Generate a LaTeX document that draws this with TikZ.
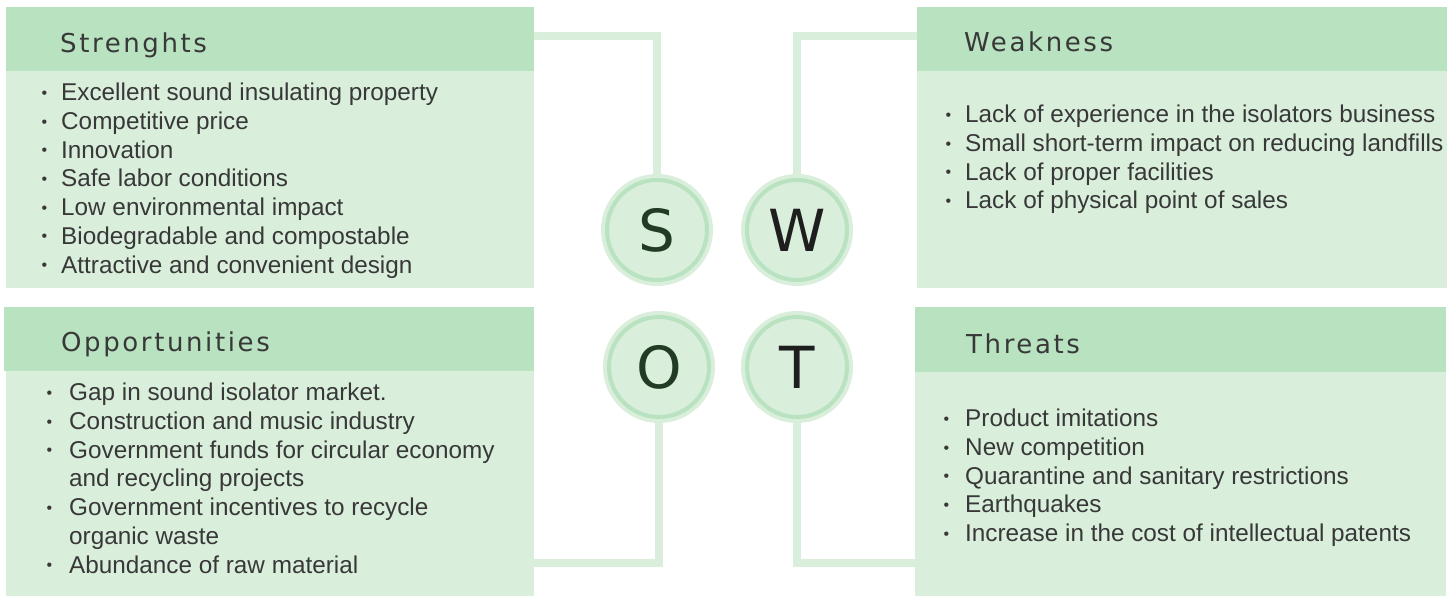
\documentclass[tikz,border=0pt]{standalone}
\usepackage{fontspec}
\setmainfont{Liberation Sans}
\newfontfamily\headfont{DejaVu Sans}[LetterSpace=10]
\newfontfamily\letterfont{DejaVu Sans}
\usetikzlibrary{shapes}

\definecolor{headgreen}{HTML}{B9E2C1}
\definecolor{bodygreen}{HTML}{D9EEDB}
\definecolor{textgray}{HTML}{383838}
\definecolor{darkgreen}{HTML}{213B25}
\definecolor{inkblack}{HTML}{1E1E1E}

\tikzstyle{head} = [rectangle, fill=headgreen, anchor=north west, inner sep=0, minimum height=64pt]
\tikzstyle{body} = [rectangle, fill=bodygreen, anchor=north west, inner sep=0]
\tikzstyle{title} = [anchor=base west, inner sep=0, text=textgray, font=\headfont\fontsize{26}{30}\selectfont]
\tikzstyle{list} = [anchor=north west, inner sep=0, align=left, text=textgray, font=\fontsize{24.3}{28.7}\selectfont]
\tikzstyle{letter} = [circle, fill=bodygreen, draw=headgreen, line width=4pt, minimum size=100pt, inner sep=0, preaction={draw=bodygreen, line width=12pt}, font=\letterfont\fontsize{58}{60}\selectfont]
\tikzstyle{link} = [draw, line width=8pt, bodygreen]

% small bullet hanging left of the item text
\newcommand{\bul}[1]{\llap{\raisebox{2.5pt}{\fontsize{16}{16}\selectfont\textbullet}\hspace{#1}}}

\begin{document}
\begin{tikzpicture}[x=1pt, y=-1pt]

\fill [white] (0,0) rectangle (1452,596);
\useasboundingbox (0,0) rectangle (1452,596);

% strengths
\node [head, minimum width=528pt] at (6, 7) (Shead) {};
\node [body, minimum width=528pt, minimum height=217pt] at (6, 71) (Sbody) {};
\node [title] at (60, 53) (Stitle) {Strenghts};
\node [list] at (61, 83) (Slist) {\bul{14pt}Excellent sound insulating property\\
\bul{14pt}Competitive price\\
\bul{14pt}Innovation\\
\bul{14pt}Safe labor conditions\\
\bul{14pt}Low environmental impact\\
\bul{14pt}Biodegradable and compostable\\
\bul{14pt}Attractive and convenient design};

% weakness
\node [head, minimum width=530pt] at (917, 7) (Whead) {};
\node [body, minimum width=530pt, minimum height=217pt] at (917, 71) (Wbody) {};
\node [title] at (964, 52) (Wtitle) {Weakness};
\node [list] at (965, 105) (Wlist) {\bul{14pt}Lack of experience in the isolators business\\
\bul{14pt}Small short-term impact on reducing landfills\\
\bul{14pt}Lack of proper facilities\\
\bul{14pt}Lack of physical point of sales};

% opportunities
\node [head, minimum width=530pt] at (4, 307) (Ohead) {};
\node [body, minimum width=528pt, minimum height=225pt] at (6, 371) (Obody) {};
\node [title] at (61, 352) (Otitle) {Opportunities};
\node [list] at (69, 383) (Olist) {\bul{17pt}Gap in sound isolator market.\\
\bul{17pt}Construction and music industry\\
\bul{17pt}Government funds for circular economy\\
and recycling projects\\
\bul{17pt}Government incentives to recycle\\
organic waste\\
\bul{17pt}Abundance of raw material};

% threats
\node [head, minimum width=531pt, minimum height=65pt] at (915, 307) (Thead) {};
\node [body, minimum width=531pt, minimum height=224pt] at (915, 372) (Tbody) {};
\node [title] at (966, 353) (Ttitle) {Threats};
\node [list] at (965, 409) (Tlist) {\bul{16pt}Product imitations\\
\bul{16pt}New competition\\
\bul{16pt}Quarantine and sanitary restrictions\\
\bul{16pt}Earthquakes\\
\bul{16pt}Increase in the cost of intellectual patents};

% letters
\node [letter, text=darkgreen] at (657, 230) (S) {S};
\node [letter, text=inkblack] at (797, 230) (W) {W};
\node [letter, text=darkgreen] at (659, 367) (O) {O};
\node [letter, text=inkblack] at (797, 367) (T) {T};

% connectors
\path [link] ([yshift=3.5pt]Shead.east) -| (S.north);
\path [link] ([yshift=3.5pt]Whead.west) -| (W.north);
\path [link] (O.south) |- ([yshift=33.5pt]Obody.south east);
\path [link] (T.south) |- ([yshift=33.5pt]Tbody.south west);

\end{tikzpicture}
\end{document}
